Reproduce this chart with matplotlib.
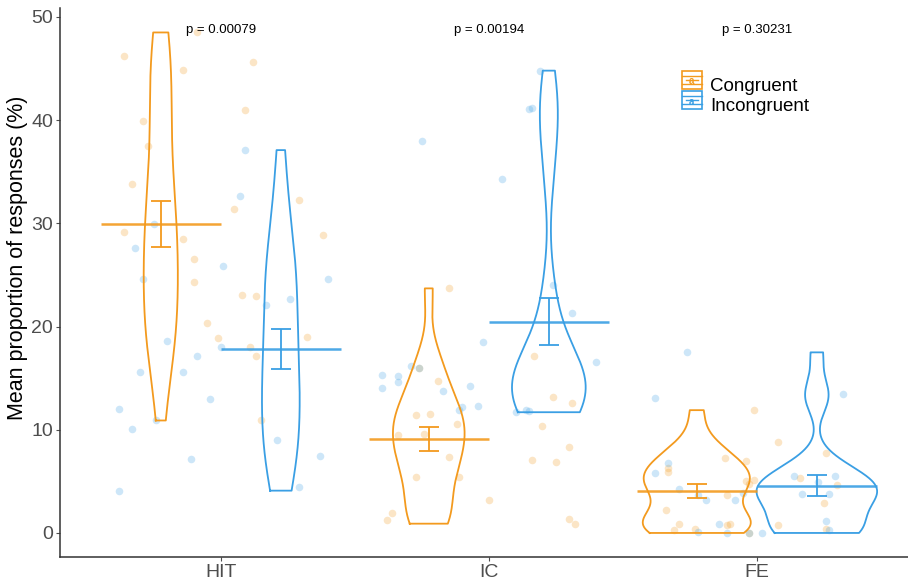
import numpy as np
import matplotlib
matplotlib.use('Agg')
import matplotlib.pyplot as plt
from matplotlib.patches import Rectangle
from matplotlib.lines import Line2D
from matplotlib.legend_handler import HandlerBase
from matplotlib.text import Text

plt.rcParams['font.family'] = ['Liberation Sans', 'DejaVu Sans']

tasks = ['HIT', 'IC', 'FE']
conditions = ['Congruent', 'Incongruent']
p_labels = ['p = 0.00079', 'p = 0.00194', 'p = 0.30231']
colors = ['#F39A1E', '#3A9FE4']

# participant values (%), with the jitter offset of each dot
hit_con = [48.5, 46.2, 44.9, 45.6, 39.9, 41.0, 37.5, 33.8, 32.3, 31.4, 29.2, 28.5,
           28.9, 26.5, 24.3, 23.1, 23.0, 20.3, 18.9, 18.0, 17.1, 19.0, 10.9]
hit_con_jit = [-0.09, -0.36, -0.14, 0.12, -0.29, 0.09, -0.27, -0.33, 0.29, 0.05, -0.36, -0.14,
               0.38, -0.10, -0.10, 0.08, 0.13, -0.05, -0.01, 0.11, 0.13, 0.32, 0.15]
hit_inc = [37.1, 32.7, 29.9, 27.6, 25.9, 24.6, 24.6, 22.7, 22.1, 18.6, 18.05, 17.1,
           15.6, 15.6, 13.0, 12.0, 10.1, 10.9, 9.0, 7.2, 7.5, 4.1, 4.5]
hit_inc_jit = [0.09, 0.07, -0.25, -0.32, 0.01, -0.29, 0.40, 0.26, 0.17, -0.20, 0.00, -0.09,
               -0.30, -0.14, -0.04, -0.38, -0.33, -0.24, 0.21, -0.11, 0.37, -0.38, 0.29]

ic_con = [23.7, 14.7, 11.4, 11.5, 10.6, 9.5, 9.6, 7.4, 5.4, 5.4, 3.2, 1.9,
          1.3, 17.1, 13.2, 12.6, 10.4, 8.3, 7.1, 6.9, 1.4, 0.9, 16.0]
ic_con_jit = [-0.15, -0.19, -0.27, -0.22, -0.12, -0.34, -0.24, -0.15, -0.27, -0.11, 0.00, -0.36,
              -0.38, 0.17, 0.24, 0.31, 0.20, 0.30, 0.16, 0.25, 0.30, 0.32, -0.26]
ic_inc = [44.8, 41.1, 41.2, 37.95, 34.3, 24.0, 21.3, 18.5, 16.6, 15.3, 15.2, 16.2,
          14.0, 14.6, 13.8, 14.2, 12.2, 11.9, 12.3, 11.7, 11.9, 11.85, 16.0]
ic_inc_jit = [0.19, 0.15, 0.16, -0.25, 0.05, 0.24, 0.31, -0.02, 0.40, -0.40, -0.34, -0.29,
              -0.40, -0.34, -0.17, -0.07, -0.10, -0.11, -0.04, 0.10, 0.14, 0.15, -0.26]

fe_con = [11.9, 8.8, 7.3, 7.0, 6.3, 5.9, 5.1, 5.0, 4.7, 3.7, 2.2, 0.9,
          0.3, 0.35, 0.8, 0.85, 0.0, 5.3, 4.6, 7.7, 2.9, 0.8, 0.4]
fe_con_jit = [-0.01, 0.08, -0.12, -0.04, -0.33, -0.33, -0.01, -0.04, -0.03, -0.11, -0.34, -0.29,
              -0.31, -0.23, -0.11, -0.10, -0.03, 0.16, 0.30, 0.26, 0.25, 0.08, 0.26]
fe_inc = [17.5, 13.1, 13.5, 6.8, 5.8, 4.3, 3.2, 3.65, 3.2, 3.9, 0.85, 0.0,
          0.1, 0.0, 0.0, 5.5, 5.5, 3.8, 3.8, 4.9, 1.2, 0.3]
fe_inc_jit = [-0.26, -0.38, 0.32, -0.33, -0.38, -0.29, -0.19, -0.22, -0.08, -0.05, -0.14, -0.11,
              -0.22, -0.03, 0.02, 0.14, 0.29, 0.17, 0.27, 0.23, 0.26, 0.27]

values = [[hit_con, hit_inc], [ic_con, ic_inc], [fe_con, fe_inc]]
jitters = [[hit_con_jit, hit_inc_jit], [ic_con_jit, ic_inc_jit], [fe_con_jit, fe_inc_jit]]


def kde(vals):
    # gaussian density, bandwidth like R's nrd0, trimmed to data range
    v = np.asarray(vals, dtype=float)
    n = len(v)
    q75, q25 = np.percentile(v, [75, 25])
    bw = 0.9 * min(v.std(ddof=1), (q75 - q25) / 1.34) * n ** -0.2
    grid = np.linspace(v.min(), v.max(), 512)
    d = np.exp(-0.5 * ((grid[:, None] - v[None, :]) / bw) ** 2).sum(1) / (n * bw * np.sqrt(2 * np.pi))
    return grid, d


dens = [[kde(v) for v in row] for row in values]
dmax = max(d.max() for row in dens for _, d in row)

fig = plt.figure(figsize=(9.08, 5.83), dpi=100)
ax = fig.add_axes([60 / 908, 26 / 583, 848 / 908, 549 / 583])

dodge = 0.224
for i, task in enumerate(tasks):
    x0 = i + 1
    for j in range(2):
        col = colors[j]
        vals = np.asarray(values[i][j])
        jit = np.asarray(jitters[i][j])
        ax.scatter(x0 + jit, vals, s=30, color=col, alpha=0.25, linewidths=0, zorder=1)

        cx = x0 + (j - 0.5) * 2 * dodge
        grid, d = dens[i][j]
        half = d / dmax * 0.225
        xs = np.concatenate([cx - half, (cx + half)[::-1], [cx - half[0]]])
        ys = np.concatenate([grid, grid[::-1], [grid[0]]])
        ax.plot(xs, ys, color=col, lw=1.3, zorder=2)

        m = vals.mean()
        se = vals.std(ddof=1) / np.sqrt(len(vals))
        ax.hlines(m, cx - dodge, cx + dodge, color=col, lw=1.8, alpha=0.9, zorder=3)
        ax.errorbar(cx, m, yerr=se, color=col, lw=1.3, capsize=7.2, capthick=1.3, zorder=3)
    ax.text(x0, 48.7, p_labels[i], ha='center', va='center', fontsize=9.5, color='black')

ax.set_xlim(0.4, 0.4 + 848 / 268)
ax.set_ylim(-2.33, 50.87)
ax.set_xticks([1, 2, 3])
ax.set_xticklabels(tasks)
ax.set_yticks([0, 10, 20, 30, 40, 50])
ax.tick_params(labelsize=14, colors='#4D4D4D', length=3, width=0.8, labelcolor='#4D4D4D', pad=2)
ax.set_ylabel('Mean proportion of responses (%)', fontsize=15.5)
ax.yaxis.set_label_coords(-0.038, 0.545)
for s in ['top', 'right']:
    ax.spines[s].set_visible(False)
for s in ['left', 'bottom']:
    ax.spines[s].set_color('#333333')
    ax.spines[s].set_linewidth(1.1)


class KeyHandler(HandlerBase):
    def create_artists(self, legend, orig, xd, yd, w, h, fs, trans):
        col = orig.get_color()
        box = Rectangle((xd, yd), w, h, facecolor='white', edgecolor=col, lw=1.2, transform=trans)
        l1 = Line2D([xd, xd + w], [yd + h * 0.72, yd + h * 0.72], color=col, lw=1.0, transform=trans)
        l2 = Line2D([xd + w * 0.2, xd + w * 0.8], [yd + h * 0.5, yd + h * 0.5], color=col, lw=1.0, transform=trans)
        l3 = Line2D([xd, xd + w], [yd + h * 0.28, yd + h * 0.28], color=col, lw=1.0, transform=trans)
        t = Text(xd + w / 2, yd + h * 0.42, 'a', color=col, fontsize=7, ha='center', va='center',
                 fontweight='bold', transform=trans)
        return [box, l1, l2, l3, t]


handles = [Line2D([], [], color=c) for c in colors]
ax.legend(handles, conditions, handler_map={Line2D: KeyHandler()}, loc='upper left',
          bbox_to_anchor=(682 / 908, 1 - 76 / 583), bbox_transform=fig.transFigure,
          frameon=False, fontsize=13.5, handlelength=1.05, handleheight=1.05,
          handletextpad=0.45, labelspacing=0.05, borderpad=0, borderaxespad=0)

fig.savefig('out.png', dpi=100)
